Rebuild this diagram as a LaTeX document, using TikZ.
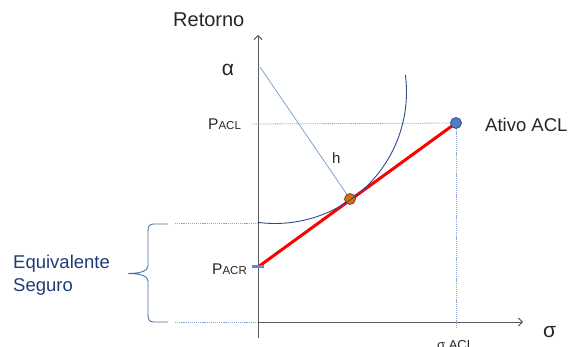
\documentclass[tikz,border=0pt]{standalone}
\usepackage{fontspec}
\setmainfont{Liberation Sans}
\usetikzlibrary{arrows.meta}
\definecolor{axisgrey}{HTML}{5A5A5A}
\definecolor{arcnavy}{HTML}{2F4B8A}
\definecolor{dotblue}{HTML}{8EAADB}
\definecolor{lineblue}{HTML}{7FA3D6}
\definecolor{bracecol}{HTML}{4A6EA8}
\definecolor{textnavy}{HTML}{1F3C78}
\definecolor{ptblue}{HTML}{4F7FC0}
\definecolor{ptborder}{HTML}{2F528F}
\definecolor{orangefill}{HTML}{E36C0A}
\definecolor{orangeborder}{HTML}{6F4A2A}
\definecolor{tickblue}{HTML}{5B8BD0}
\definecolor{txtgrey}{HTML}{262626}
\newcommand{\fs}[1]{\fontsize{#1}{#1}\selectfont}
\begin{document}
\begin{tikzpicture}[x=1pt,y=-1pt,
  axisline/.style={draw=axisgrey, line width=0.9pt},
  dotline/.style={draw=dotblue, line width=0.8pt, dash pattern=on 1.2pt off 0.9pt},
  lbl/.style={inner sep=0pt, text=txtgrey, anchor=base west},
  navylbl/.style={inner sep=0pt, text=textnavy, anchor=base west},
  dotpt/.style={circle, inner sep=0pt, minimum size=11pt, line width=0.8pt}]
\useasboundingbox (0,0) rectangle (568,347);

% coordinates
\coordinate (ybot) at (258,338);
\coordinate (ytop) at (258,35);
\coordinate (orig) at (258,322);
\coordinate (xend) at (523,322);
\coordinate (alpha) at (260,67);
\coordinate (ctr) at (275,92);
\coordinate (pacl) at (252,124);
\coordinate (acr) at (258,267);
\coordinate (acrL) at (252,267);
\coordinate (acrR) at (264,267);
\coordinate (braceTopR) at (175,223);
\coordinate (braceTopL) at (258,223);
\coordinate (braceBotR) at (175,322);
\coordinate (sigmaFoot) at (456,328);

% axes
\draw[axisline, -{Straight Barb[length=4pt,width=8pt]}] (ybot) -- (ytop);
\draw[axisline, -{Straight Barb[length=4pt,width=8pt]}] (orig) -- (xend);

% nodes of points
\node[dotpt] (A) at (456,123) {};
\node[dotpt] (O) at (350,199) {};

% dotted guides
\draw[dotline] (pacl) -- (A.center);
\draw[dotline] (A.center) -- (sigmaFoot);
\draw[dotline] (braceTopR) -- (braceTopL);
\draw[dotline] (braceBotR) -- (orig);

% alpha to tangency point
\draw[draw=lineblue, line width=0.8pt] (alpha) -- (O.center);

% red line
\draw[red, line width=3pt] (acr) -- (A.center);

% points on top
\node[dotpt, fill=ptblue, draw=ptborder] at (A) {};
\node[dotpt, fill=orangefill, draw=orangeborder] at (O) {};

% arc
\draw[arcnavy, line width=0.9pt] (ctr) ++(97.4:131.5) arc (97.4:-7.5:131.5);

% PACR tick
\draw[tickblue, line width=3pt] (acrL) -- (acrR);

% brace
\draw[bracecol, line width=0.9pt]
  (168,224) -- (154,224) .. controls (149.5,224) and (148,226) .. (148,231)
  -- (148,266) .. controls (148,271) and (140,273.5) .. (128,273.5)
  .. controls (140,273.5) and (148,276) .. (148,281)
  -- (148,315) .. controls (148,320) and (149.5,322) .. (154,322) -- (168,322);

% labels
\node[lbl] (ret) at (173,27) {\fs{20}Retorno};
\node[lbl, anchor=center] (al) at (228,70) {\fs{21}α};
\node[lbl] (paclL) at (208,130) {\fs{15.5}P\fs{11.5}ACL};
\node[lbl] (pacrL) at (212,275) {\fs{15.5}P\fs{11.5}ACR};
\node[lbl] (hL) at (332,164) {\fs{15}h};
\node[lbl] (ativo) at (485,132) {\fs{18.5}Ativo ACL};
\node[navylbl] (eq1) at (13,269) {\fs{18.5}Equivalente};
\node[navylbl] (eq2) at (13,292) {\fs{18.5}Seguro};
\node[lbl] (sig) at (543,338) {\fs{21}σ};
\node[lbl] (sigacl) at (437,350) {\fs{13}σ ACL};
\end{tikzpicture}
\end{document}
